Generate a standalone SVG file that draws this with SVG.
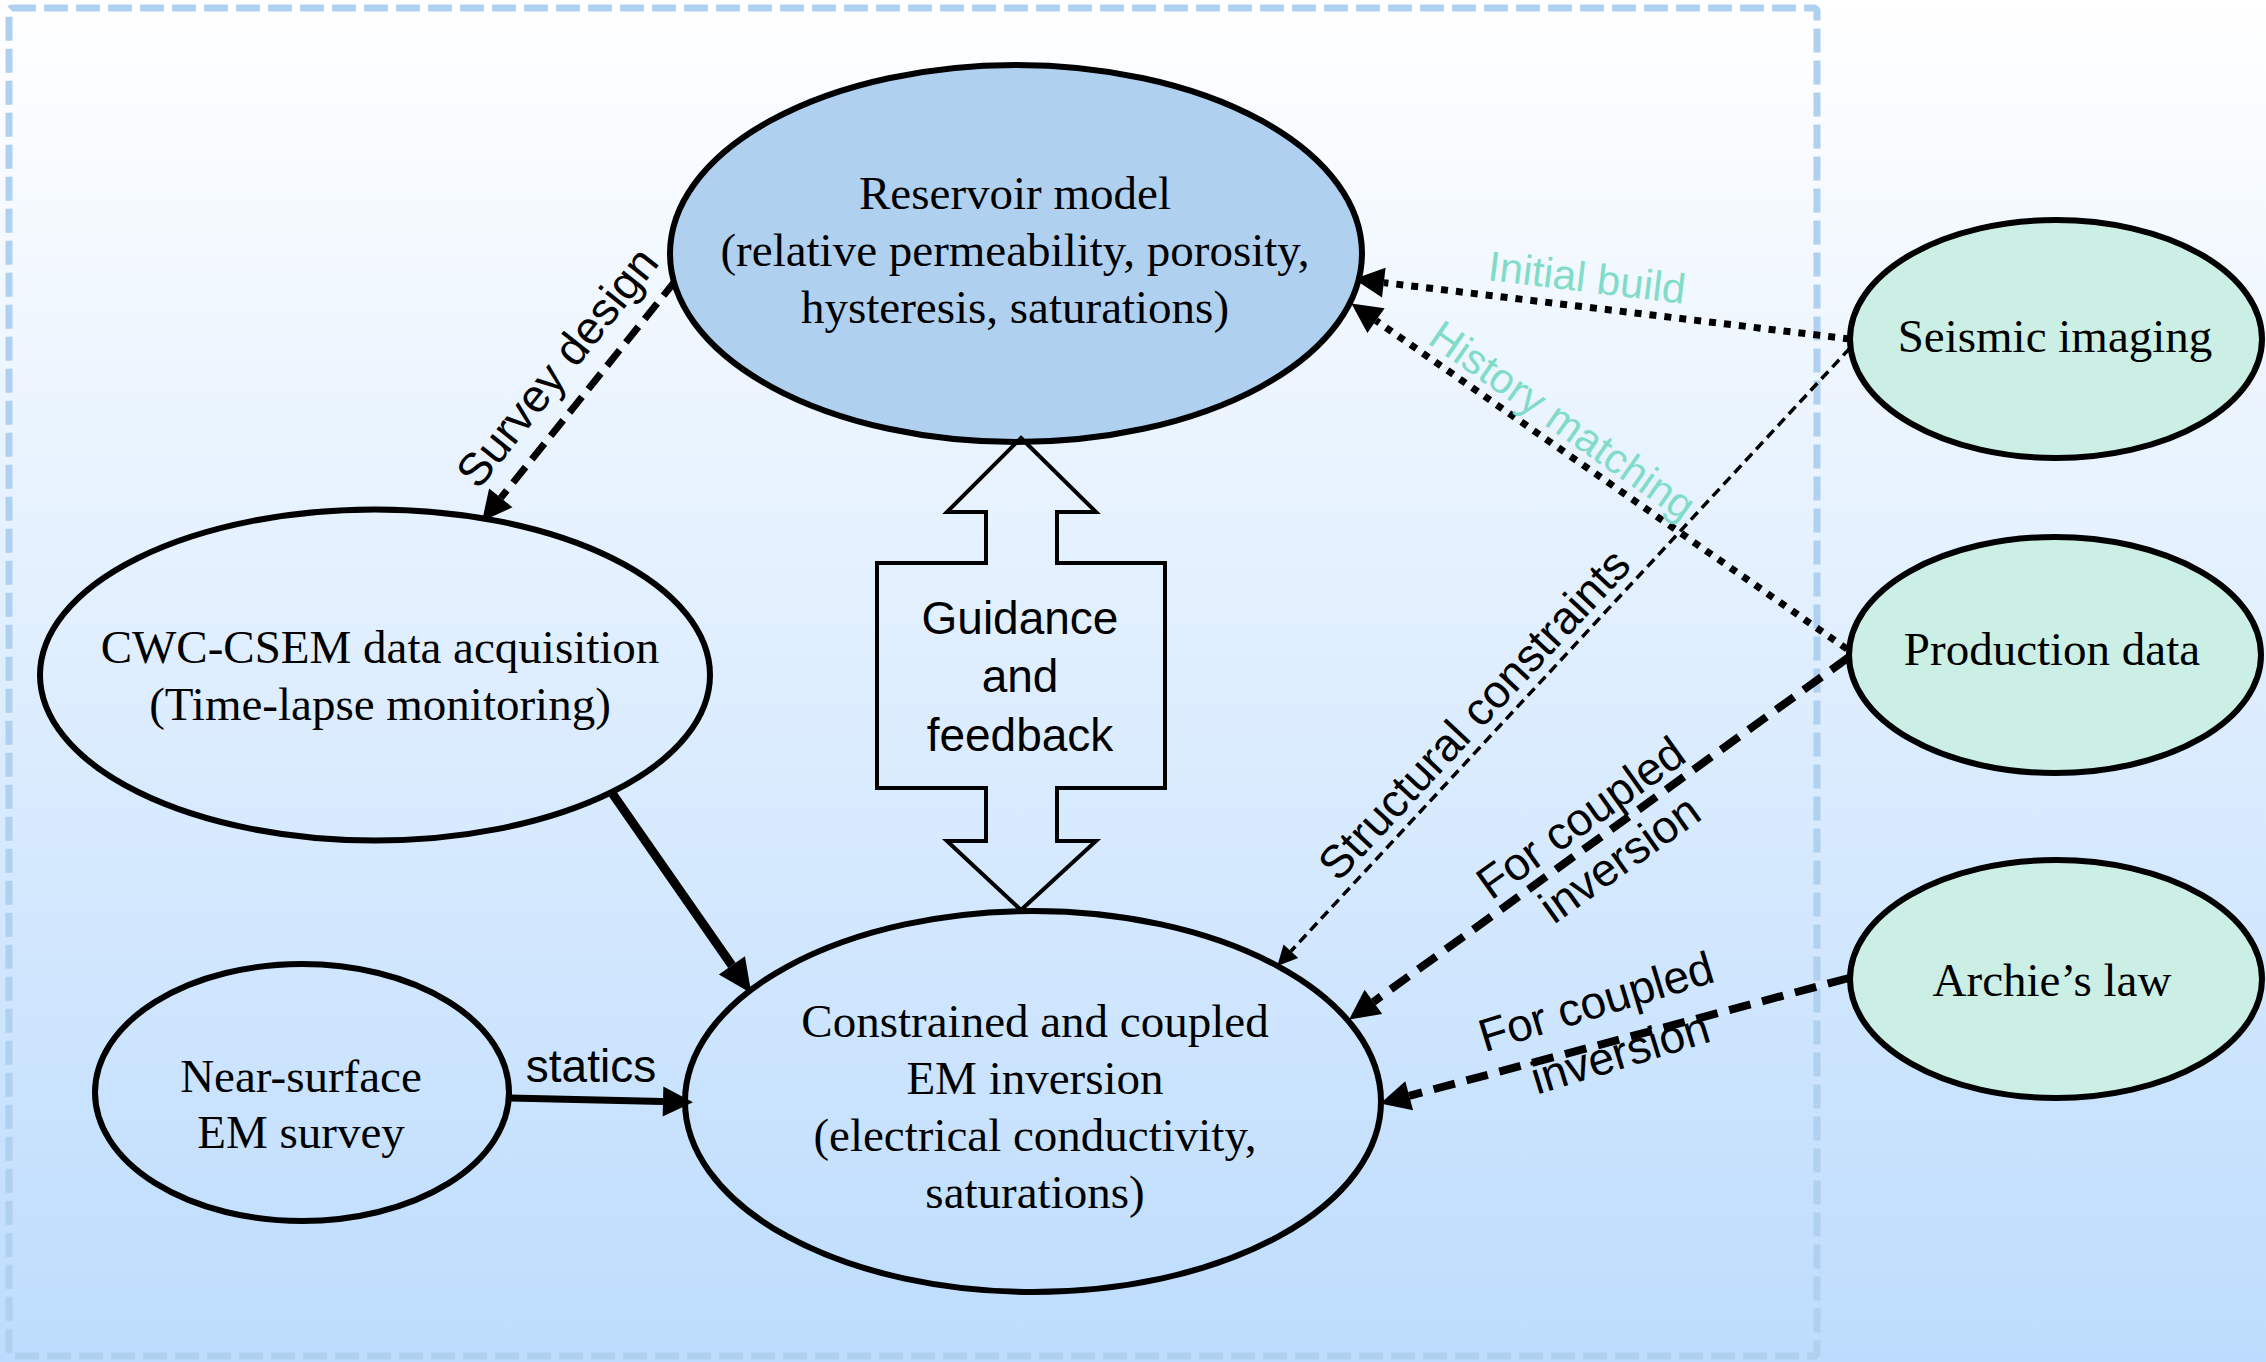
<svg xmlns="http://www.w3.org/2000/svg" width="2266" height="1362" viewBox="0 0 2266 1362">
<style>
.node{stroke:#000;stroke-width:6}
.serif{font-family:"Liberation Serif","Times New Roman",serif;font-size:47px;fill:#000;text-anchor:middle}
.sans{font-family:"Liberation Sans",Arial,sans-serif;font-size:46px;fill:#000;text-anchor:middle}
.mint{font-family:"Liberation Sans",Arial,sans-serif;font-size:42px;fill:#80dcc8;text-anchor:middle}
.c{fill:none;stroke:#000}
.dash{stroke-width:7;stroke-dasharray:20 10}
.dot{stroke-width:7;stroke-dasharray:7 8}
.thin{stroke-width:3.5;stroke-dasharray:10 6}
.bold{stroke-width:8;stroke-dasharray:22 12}
</style>
<defs>
<linearGradient id="bg" x1="0" y1="0" x2="0" y2="1">
<stop offset="0" stop-color="#ffffff"/>
<stop offset="1" stop-color="#bddcfd"/>
</linearGradient>
<marker id="ah" markerUnits="userSpaceOnUse" markerWidth="30" markerHeight="30" viewBox="0 -12 24 24" refX="0" refY="0" orient="auto" overflow="visible">
<path d="M0,-12 L24,0 L0,12 Z" fill="#000"/>
</marker>
<marker id="ahb" markerUnits="userSpaceOnUse" markerWidth="34" markerHeight="34" viewBox="0 -14 30 28" refX="0" refY="0" orient="auto" overflow="visible">
<path d="M0,-14 L30,0 L0,14 Z" fill="#000"/>
</marker>
<marker id="ahs" markerUnits="userSpaceOnUse" markerWidth="20" markerHeight="20" viewBox="0 -8 16 16" refX="0" refY="0" orient="auto" overflow="visible">
<path d="M0,-8 L16,0 L0,8 Z" fill="#000"/>
</marker>
</defs>
<rect x="0" y="0" width="2266" height="1362" fill="url(#bg)"/>
<rect x="9" y="8" width="1808" height="1348" rx="3" fill="none" stroke="#b0d0f0" stroke-width="7" stroke-dasharray="24 8"/>

<g id="connectors">
<path class="c dash" d="M676,280 L500.8,497.9" marker-end="url(#ah)"/>
<path class="c" stroke-width="9" d="M612,793 L731.9,965.4" marker-end="url(#ahb)"/>
<path class="c" stroke-width="7" d="M510,1098 L663,1101.5" marker-end="url(#ah)"/>
<path class="c dot" d="M1850,339 L1383.8,282.6" marker-end="url(#ah)"/>
<path class="c dot" d="M1847,649 L1376,320.6" marker-end="url(#ah)"/>
<path class="c thin" d="M1850,348 L1290.9,951.3" marker-end="url(#ahs)"/>
<path class="c bold" d="M1849,657 L1373.4,1001.9" marker-end="url(#ah)"/>
<path class="c bold" d="M1849,978 L1409.2,1095.8" marker-end="url(#ah)"/>
<text class="sans" transform="translate(557,367) rotate(-51.3)" y="16">Survey design</text>
<text class="sans" x="591" y="1082">statics</text>
<text class="mint" transform="translate(1587,277) rotate(6.9)" y="15">Initial build</text>
<text class="mint" transform="translate(1563,420) rotate(35)" y="15">History matching</text>
<text class="sans" transform="translate(1474,714) rotate(-47)" y="16">Structural constraints</text>
<g transform="translate(1600,838) rotate(-35.5)">
<text class="sans" x="-4" y="-12">For coupled</text>
<text class="sans" x="4" y="44">inversion</text>
</g>
<g transform="translate(1608,1027) rotate(-17)">
<text class="sans" x="-4" y="-12">For coupled</text>
<text class="sans" x="4" y="44">inversion</text>
</g>
</g>

<g id="reservoir">
<ellipse class="node" cx="1016" cy="253.5" rx="346" ry="188.5" fill="#b0d0f0"/>
<text class="serif" x="1015" y="209">Reservoir model</text>
<text class="serif" x="1015" y="266">(relative permeability, porosity,</text>
<text class="serif" x="1015" y="323">hysteresis, saturations)</text>
</g>

<g id="cwc">
<ellipse class="node" cx="375" cy="675" rx="335" ry="165.5" fill="none"/>
<text class="serif" x="380" y="663">CWC-CSEM data acquisition</text>
<text class="serif" x="380" y="720">(Time-lapse monitoring)</text>
</g>

<g id="nearsurface">
<ellipse class="node" cx="302" cy="1092.5" rx="207" ry="128.5" fill="none"/>
<text class="serif" x="301" y="1092">Near-surface</text>
<text class="serif" x="301" y="1148">EM survey</text>
</g>

<g id="inversion">
<ellipse class="node" cx="1033" cy="1101.5" rx="348" ry="190.5" fill="none"/>
<text class="serif" x="1035" y="1037">Constrained and coupled</text>
<text class="serif" x="1035" y="1094">EM inversion</text>
<text class="serif" x="1035" y="1151">(electrical conductivity,</text>
<text class="serif" x="1035" y="1208">saturations)</text>
</g>

<g id="guidance">
<path d="M1021,438 L1096,512 L1057,512 L1057,563 L1165,563 L1165,788 L1057,788 L1057,841 L1096,841 L1021,910 L947,841 L986,841 L986,788 L877,788 L877,563 L986,563 L986,512 L947,512 Z" fill="none" stroke="#000" stroke-width="4"/>
<text class="sans" x="1020" y="634">Guidance</text>
<text class="sans" x="1020" y="692">and</text>
<text class="sans" x="1020" y="751">feedback</text>
</g>

<g id="seismic">
<ellipse class="node" cx="2056" cy="339" rx="206" ry="119" fill="#cbefe4"/>
<text class="serif" x="2055" y="352">Seismic imaging</text>
</g>

<g id="production">
<ellipse class="node" cx="2055" cy="655" rx="206" ry="118" fill="#cbefe4"/>
<text class="serif" x="2052" y="665">Production data</text>
</g>

<g id="archie">
<ellipse class="node" cx="2056" cy="979" rx="206" ry="119" fill="#cbefe4"/>
<text class="serif" x="2052" y="996">Archie’s law</text>
</g>
</svg>
